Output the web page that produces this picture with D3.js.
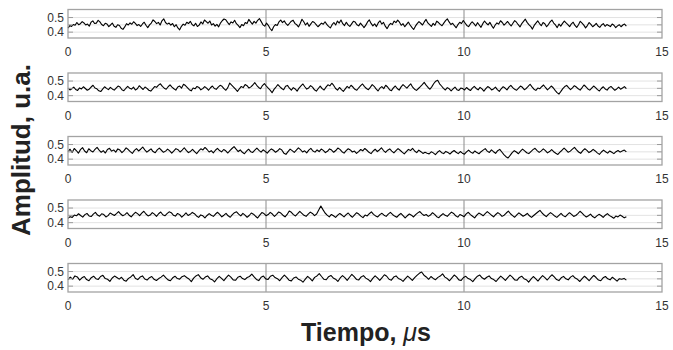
<!DOCTYPE html>
<html>
<head>
<meta charset="utf-8">
<script src="https://cdn.jsdelivr.net/npm/d3@7"></script>
<style>
  html, body { margin: 0; padding: 0; background: #fff; }
  svg { display: block; font-family: "Liberation Sans", Arial, Helvetica, sans-serif; }
</style>
</head>
<body>
<svg id="chart" width="673" height="350"></svg>
<script>
// Recorded amplitude traces (u.a.), five acquisitions, each sampled uniformly from 0 to tEnd µs
const tEnd = 14.1;

const trace1 = [
.428,.445,.439,.452,.447,.466,.451,.458,.472,.463,.449,.455,.441,.468,.477,.459,.462,.481,.470,.452,.444,.461,.456,.438,.449,
.462,.440,.433,.451,.446,.427,.419,.436,.458,.449,.463,.454,.471,.460,.445,.452,.439,.456,.468,.447,.431,.450,.462,.484,.473,
.458,.467,.449,.478,.491,.466,.455,.462,.448,.459,.437,.451,.429,.416,.440,.455,.447,.468,.459,.474,.452,.443,.461,.439,.448,
.470,.456,.483,.472,.461,.476,.449,.458,.441,.453,.436,.462,.478,.490,.485,.467,.452,.470,.463,.481,.458,.446,.431,.452,.444,
.466,.459,.487,.470,.455,.474,.462,.481,.493,.472,.450,.441,.462,.447,.425,.410,.437,.452,.446,.470,.483,.465,.477,.458,.446,
.461,.475,.482,.460,.451,.436,.459,.488,.471,.449,.464,.440,.457,.473,.466,.452,.437,.449,.462,.454,.471,.453,.440,.429,.451,
.466,.449,.476,.462,.483,.458,.445,.468,.450,.439,.457,.474,.469,.451,.443,.462,.447,.431,.448,.470,.484,.460,.443,.457,.438,
.463,.478,.455,.467,.441,.424,.446,.460,.452,.476,.465,.482,.468,.447,.458,.437,.453,.469,.449,.433,.418,.441,.458,.472,.461,
.449,.470,.487,.463,.451,.439,.460,.447,.475,.466,.453,.444,.462,.479,.491,.470,.452,.461,.444,.430,.452,.468,.459,.480,.463,
.446,.438,.456,.471,.458,.442,.465,.449,.433,.458,.476,.461,.450,.467,.445,.427,.449,.463,.455,.478,.466,.448,.460,.473,.457,
.442,.461,.479,.468,.451,.436,.459,.474,.489,.467,.452,.440,.421,.446,.462,.477,.459,.444,.466,.458,.437,.452,.470,.483,.462,
.449,.431,.455,.441,.460,.476,.463,.452,.438,.457,.468,.446,.433,.451,.474,.462,.448,.429,.445,.466,.453,.437,.447,.460,.442,
.433,.449,.458,.440,.452,.445,.438,.456,.447,.431,.443,.451,.437,.449,.455,.442
];

const trace2 = [
.451,.439,.447,.458,.442,.436,.453,.446,.461,.449,.437,.444,.459,.471,.452,.447,.433,.428,.445,.461,.450,.441,.457,.446,.438,
.452,.466,.459,.440,.434,.449,.463,.451,.445,.458,.439,.447,.468,.455,.442,.459,.450,.437,.431,.446,.462,.457,.472,.481,.463,
.451,.444,.461,.474,.458,.447,.438,.459,.466,.452,.478,.469,.455,.441,.433,.452,.447,.463,.456,.440,.448,.462,.451,.437,.454,
.466,.449,.443,.458,.471,.464,.448,.437,.455,.486,.472,.459,.444,.429,.447,.463,.455,.476,.468,.452,.460,.473,.489,.471,.456,
.447,.469,.482,.466,.451,.438,.420,.443,.459,.476,.462,.449,.441,.464,.470,.451,.437,.455,.446,.431,.452,.467,.480,.461,.445,
.453,.469,.458,.440,.431,.449,.465,.448,.439,.458,.474,.467,.485,.470,.449,.438,.456,.441,.429,.446,.463,.452,.471,.459,.443,
.437,.454,.468,.480,.462,.449,.441,.457,.475,.464,.446,.432,.451,.462,.448,.471,.459,.441,.434,.453,.466,.449,.438,.460,.475,
.463,.452,.467,.481,.458,.444,.436,.449,.462,.476,.491,.472,.456,.444,.462,.483,.499,.505,.481,.466,.450,.439,.455,.447,.433,
.446,.459,.441,.436,.452,.448,.439,.456,.444,.435,.451,.463,.449,.440,.457,.446,.431,.448,.462,.454,.439,.446,.458,.441,.429,
.447,.461,.452,.440,.458,.471,.455,.443,.437,.452,.466,.457,.441,.449,.463,.478,.460,.444,.436,.452,.447,.461,.473,.456,.440,
.451,.466,.454,.436,.421,.411,.429,.448,.462,.470,.455,.441,.453,.468,.459,.447,.438,.455,.473,.461,.446,.438,.452,.466,.455,
.441,.432,.449,.461,.446,.438,.455,.463,.450,.437,.446,.458,.444,.452,.462,.448
];

const trace3 = [
.452,.468,.446,.473,.459,.441,.465,.479,.456,.444,.471,.458,.449,.467,.481,.462,.447,.458,.442,.466,.474,.455,.463,.448,.470,
.462,.445,.458,.477,.466,.451,.439,.460,.472,.456,.468,.483,.464,.448,.459,.470,.452,.444,.463,.475,.461,.447,.455,.469,.457,
.441,.456,.472,.465,.449,.462,.478,.460,.445,.453,.467,.451,.438,.456,.471,.463,.480,.466,.449,.458,.443,.461,.474,.459,.450,
.466,.457,.442,.459,.473,.486,.468,.452,.463,.447,.437,.455,.468,.451,.446,.462,.476,.460,.448,.464,.453,.441,.458,.470,.461,
.447,.457,.472,.463,.441,.433,.452,.469,.458,.446,.461,.477,.465,.449,.457,.443,.462,.474,.456,.448,.463,.452,.469,.460,.445,
.454,.470,.462,.447,.459,.476,.467,.451,.441,.458,.471,.463,.449,.455,.439,.452,.466,.457,.473,.461,.447,.438,.456,.468,.452,
.463,.478,.459,.446,.461,.470,.455,.443,.458,.472,.461,.448,.436,.452,.467,.459,.474,.456,.445,.462,.451,.439,.447,.441,.436,
.450,.443,.431,.447,.458,.444,.438,.453,.446,.435,.449,.459,.447,.438,.452,.441,.434,.450,.462,.448,.440,.456,.445,.437,.451,
.462,.472,.455,.446,.463,.451,.440,.458,.467,.449,.431,.417,.408,.426,.445,.458,.449,.437,.455,.469,.457,.444,.438,.452,.465,
.474,.459,.446,.457,.470,.458,.443,.452,.465,.451,.440,.432,.448,.461,.476,.462,.447,.455,.469,.481,.463,.449,.440,.458,.471,
.460,.445,.454,.467,.456,.443,.433,.449,.462,.451,.441,.456,.447,.438,.451,.459,.448,.456,.462,.450
];

const trace4 = [
.429,.441,.436,.452,.447,.461,.449,.438,.455,.463,.446,.442,.458,.470,.452,.444,.461,.455,.439,.448,.466,.457,.449,.462,.476,
.459,.447,.455,.468,.451,.440,.457,.471,.462,.448,.465,.478,.459,.446,.452,.469,.458,.443,.461,.473,.454,.447,.462,.474,.468,
.451,.445,.463,.455,.438,.452,.467,.449,.457,.470,.461,.446,.436,.453,.447,.433,.449,.462,.451,.443,.459,.471,.456,.440,.451,
.464,.447,.437,.455,.468,.474,.458,.446,.463,.451,.437,.449,.466,.458,.444,.432,.451,.469,.462,.448,.455,.470,.459,.443,.457,
.473,.466,.451,.440,.456,.480,.471,.455,.446,.461,.477,.464,.450,.443,.458,.472,.463,.448,.459,.486,.514,.489,.466,.452,.440,
.456,.447,.436,.451,.463,.452,.440,.455,.466,.449,.437,.453,.468,.459,.445,.434,.452,.446,.461,.474,.457,.446,.439,.455,.464,
.451,.443,.458,.470,.456,.445,.437,.452,.463,.448,.432,.447,.459,.451,.439,.455,.467,.476,.460,.449,.456,.443,.452,.468,.457,
.441,.434,.449,.462,.450,.443,.458,.472,.463,.447,.438,.456,.449,.441,.460,.471,.455,.444,.433,.451,.466,.458,.447,.462,.475,
.463,.451,.440,.456,.469,.458,.443,.451,.466,.479,.461,.448,.437,.453,.467,.456,.444,.452,.463,.447,.436,.449,.461,.473,.484,
.466,.452,.441,.457,.469,.458,.445,.436,.450,.463,.448,.440,.455,.468,.457,.443,.449,.462,.478,.465,.450,.439,.447,.458,.442,
.433,.446,.457,.449,.436,.451,.462,.448,.440,.430,.445,.439,.452,.444,.433,.440
];

const trace5 = [
.444,.462,.448,.470,.463,.441,.457,.466,.445,.437,.458,.468,.451,.446,.466,.474,.452,.447,.433,.456,.469,.459,.448,.461,.441,
.434,.453,.463,.479,.452,.445,.462,.470,.449,.442,.458,.466,.447,.439,.452,.462,.476,.458,.443,.437,.457,.468,.452,.448,.465,
.472,.459,.449,.431,.455,.470,.479,.458,.447,.462,.470,.451,.444,.429,.451,.467,.453,.438,.458,.476,.462,.443,.440,.461,.468,
.452,.445,.459,.466,.482,.463,.446,.438,.461,.469,.450,.446,.468,.475,.459,.451,.437,.458,.476,.460,.441,.436,.456,.463,.448,
.441,.427,.448,.467,.453,.436,.460,.470,.486,.466,.447,.444,.465,.473,.456,.448,.432,.456,.472,.458,.440,.461,.481,.465,.446,
.443,.463,.472,.455,.446,.431,.453,.471,.456,.440,.459,.478,.468,.447,.441,.462,.470,.453,.446,.433,.452,.469,.455,.439,.458,
.474,.488,.497,.475,.463,.447,.466,.453,.444,.460,.469,.484,.462,.452,.437,.457,.476,.463,.443,.439,.459,.467,.452,.445,.431,
.451,.468,.476,.457,.447,.461,.470,.452,.445,.432,.452,.469,.455,.439,.458,.475,.462,.443,.440,.460,.468,.451,.444,.428,.448,
.466,.452,.435,.455,.472,.458,.442,.461,.478,.463,.445,.438,.457,.467,.450,.443,.462,.472,.455,.447,.432,.451,.468,.454,.437,
.456,.473,.459,.442,.437,.457,.466,.450,.443,.461,.448,.434,.451,.447,.453,.441
];

const traces = [trace1, trace2, trace3, trace4, trace5];

// Axis settings
const xDomain = [0, 15];
const xTicks = [0, 5, 10, 15];
const yDomain = [0.36, 0.555];
const yTickLabels = [0.4, 0.5];
const yGrid = [0.4, 0.45, 0.5];

const svg = d3.select("#chart");

const left = 68, right = 662;
const panelTop0 = 9.5, panelStep = 63.5, panelH = 28.5;

const x = d3.scaleLinear().domain(xDomain).range([left, right]);

traces.forEach((vals, i) => {
  const top = panelTop0 + i * panelStep;
  const y = d3.scaleLinear().domain(yDomain).range([top + panelH, top]);
  const g = svg.append("g");

  // horizontal grid
  g.selectAll("line.hg").data(yGrid).join("line")
    .attr("x1", left).attr("x2", right)
    .attr("y1", d => y(d)).attr("y2", d => y(d))
    .attr("stroke", "#e3e3e3").attr("stroke-width", 1);

  // vertical grid at interior ticks
  g.selectAll("line.vg").data(xTicks.filter(t => t > xDomain[0] && t < xDomain[1])).join("line")
    .attr("x1", d => x(d)).attr("x2", d => x(d))
    .attr("y1", top).attr("y2", top + panelH)
    .attr("stroke", "#8c8c8c").attr("stroke-width", 1);

  // signal
  const n = vals.length;
  const line = d3.line()
    .x((d, k) => x(k * tEnd / (n - 1)))
    .y(d => y(d));
  g.append("path").datum(vals)
    .attr("d", line)
    .attr("fill", "none")
    .attr("stroke", "#000")
    .attr("stroke-width", 1.1)
    .attr("stroke-linejoin", "round");

  // inward ticks on left and right sides
  g.selectAll("line.lt").data(yGrid).join("line")
    .attr("x1", left).attr("x2", left + 5)
    .attr("y1", d => y(d)).attr("y2", d => y(d))
    .attr("stroke", "#9a9a9a");
  g.selectAll("line.rt").data(yGrid).join("line")
    .attr("x1", right - 5).attr("x2", right)
    .attr("y1", d => y(d)).attr("y2", d => y(d))
    .attr("stroke", "#9a9a9a");

  // frame
  g.append("rect")
    .attr("x", left).attr("y", top)
    .attr("width", right - left).attr("height", panelH)
    .attr("fill", "none").attr("stroke", "#a3a3a3").attr("stroke-width", 1.3);

  // y tick labels
  g.selectAll("text.yl").data(yTickLabels).join("text")
    .attr("x", left - 4).attr("y", d => y(d))
    .attr("dy", "0.35em")
    .attr("text-anchor", "end")
    .attr("font-size", 12)
    .attr("fill", "#333")
    .text(d => d3.format(".1f")(d));

  // x tick labels
  g.selectAll("text.xl").data(xTicks).join("text")
    .attr("x", d => x(d)).attr("y", top + panelH + 14)
    .attr("dy", "0.35em")
    .attr("text-anchor", "middle")
    .attr("font-size", 12)
    .attr("fill", "#333")
    .text(d => d);
});

// axis titles
svg.append("text")
  .attr("transform", "translate(30,150) rotate(-90)")
  .attr("text-anchor", "middle")
  .attr("font-size", 26)
  .attr("font-weight", "bold")
  .attr("fill", "#222")
  .text("Amplitud, u.a.");

const xt = svg.append("text")
  .attr("x", 366).attr("y", 341)
  .attr("text-anchor", "middle")
  .attr("font-size", 25)
  .attr("font-weight", "bold")
  .attr("fill", "#222");
xt.append("tspan").text("Tiempo, ");
xt.append("tspan").attr("font-style", "italic").attr("font-weight", "normal").text("μ");
xt.append("tspan").text("s");
</script>
</body>
</html>
